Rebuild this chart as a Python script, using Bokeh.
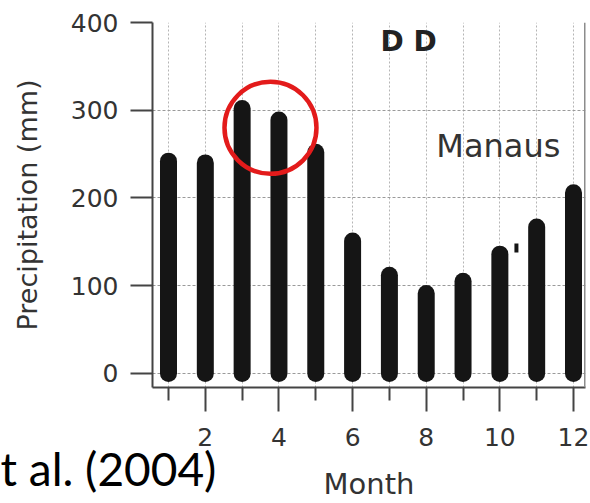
import math
from bokeh.plotting import figure
from bokeh.models import FixedTicker, Range1d, Label, Span, Title
from bokeh.embed import file_html
from bokeh.resources import INLINE

# ---- data ----
months = [1, 2, 3, 4, 5, 6, 7, 8, 9, 10, 11, 12]
precip = [242, 240, 302, 289, 252, 151, 112, 91, 105, 136, 167, 206]
x_major_ticks = [2, 4, 6, 8, 10, 12]
x_minor_ticks = [1, 3, 5, 7, 9, 11]
y_ticks = [0, 100, 200, 300, 400]
station = "Manaus"
flag_text = "D D"
x_label = "Month"
y_label = "Precipitation (mm)"
citation = "t al. (2004)"
highlight_x = [3.77]
highlight_y = [280]
mark_x = [10.45]
mark_y = [143]

X0, X1 = 0.5655, 12.326
Y0, Y1 = -16.0, 400

p = figure(width=590, height=503, output_backend="svg", toolbar_location=None,
           x_range=Range1d(X0, X1), y_range=Range1d(Y0, Y1),
           min_border_left=152, min_border_right=5, min_border_top=22,
           min_border_bottom=116)
p.outline_line_color = None
p.background_fill_color = "white"
p.border_fill_color = "white"

# axes
p.xaxis.ticker = FixedTicker(ticks=x_major_ticks, minor_ticks=x_minor_ticks)
p.yaxis.ticker = FixedTicker(ticks=y_ticks)
for ax in (p.xaxis, p.yaxis):
    ax.axis_line_color = "#444444"
    ax.axis_line_width = 2
    ax.major_tick_line_color = "#444444"
    ax.major_tick_line_width = 2
    ax.minor_tick_line_color = "#444444"
    ax.minor_tick_line_width = 2
    ax.major_label_text_font = "DejaVu Sans"
    ax.major_label_text_font_size = "25px"
    ax.major_label_text_color = "#333333"
    ax.axis_label_text_font = "DejaVu Sans"
    ax.axis_label_text_font_style = "normal"
    ax.axis_label_text_color = "#333333"
p.xaxis.major_tick_in = 0
p.xaxis.major_tick_out = 24
p.xaxis.minor_tick_in = 0
p.xaxis.minor_tick_out = 13
p.xaxis.major_label_standoff = 16
p.xaxis.axis_label = x_label
p.xaxis.axis_label_text_font_size = "29px"
p.xaxis.axis_label_standoff = 18
p.yaxis.major_tick_in = 0
p.yaxis.major_tick_out = 22
p.yaxis.minor_tick_in = 0
p.yaxis.minor_tick_out = 0
p.yaxis.major_label_standoff = 12
p.yaxis.axis_label = y_label
p.yaxis.axis_label_text_font_size = "27px"
p.yaxis.axis_label_standoff = 25

# grids
p.ygrid.grid_line_color = "#9a9a9a"
p.ygrid.grid_line_dash = "3 2"
p.ygrid.grid_line_width = 1
p.xgrid.ticker = FixedTicker(ticks=months)
p.xgrid.grid_line_color = "#b5b5b5"
p.xgrid.grid_line_dash = "2 2"
p.xgrid.grid_line_width = 1

# right frame line
p.add_layout(Span(location=X1, dimension="height", line_color="#8c8c8c", line_width=3))

# bars (rounded)
p.segment(x0=months, y0=[0] * len(months), x1=months, y1=precip,
          line_width=17, line_cap="round", line_color="#151515")

# small mark
p.rect(x=mark_x, y=mark_y, width=4, height=9, width_units="screen",
       height_units="screen", fill_color="#151515", line_color=None)

# red highlight circle
p.scatter(x=highlight_x, y=highlight_y, size=92, fill_color=None,
          line_color="#e31b1b", line_width=4.5)

# in-plot texts
p.add_layout(Label(x=7.52, y=378, text=flag_text, text_font="DejaVu Sans",
                   text_font_style="bold", text_font_size="28px",
                   text_color="#222222", text_align="center", text_baseline="middle"))
p.add_layout(Label(x=9.96, y=259, text=station, text_font="DejaVu Sans",
                   text_font_size="32px", text_color="#333333",
                   text_align="center", text_baseline="middle"))

# citation fragment in the lower-left corner
p.add_layout(Title(text=citation, align="left", vertical_align="top",
                   offset=-152, standoff=-126, text_font="Lato",
                   text_font_size="46px", text_font_style="normal",
                   text_color="#000000"), "below")

open("out.html", "w").write(file_html(p, INLINE))
